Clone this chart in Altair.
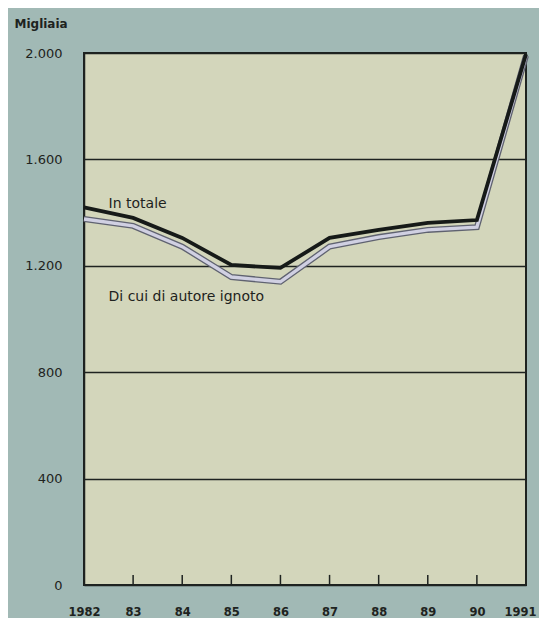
import altair as alt
import pandas as pd

years = [1982, 1983, 1984, 1985, 1986, 1987, 1988, 1989, 1990, 1991]
totale = [1420, 1380, 1305, 1203, 1192, 1305, 1335, 1361, 1372, 1995]
ignoto = [1376, 1350, 1272, 1158, 1140, 1272, 1308, 1335, 1345, 1990]
tick_years = [1983, 1984, 1985, 1986, 1987, 1988, 1989, 1990]
y_ticks = [0, 400, 800, 1200, 1600, 2000]
label_texts = ["In totale", "Di cui di autore ignoto"]
label_x = [1982.5, 1982.5]
label_y = [1432, 1082]

FONT = "DejaVu Sans"
INK = "#1e2320"

df = pd.DataFrame({"anno": years, "totale": totale, "ignoto": ignoto})
ticks_df = pd.DataFrame({"anno": tick_years, "y0": [0] * len(tick_years), "y1": [38] * len(tick_years)})
lab_df = pd.DataFrame({"t": label_texts, "x": label_x, "y": label_y})

xscale = alt.Scale(domain=[1982, 1991], nice=False, zero=False)
yscale = alt.Scale(domain=[0, 2000], nice=False)

xaxis = alt.Axis(
    values=years, domain=False, ticks=False, grid=False, title=None,
    labelExpr="datum.value == 1982 || datum.value == 1991 ? toString(datum.value) : substring(toString(datum.value), 2)",
    labelFont=FONT, labelFontSize=11.5, labelFontWeight="bold", labelColor=INK,
    labelPadding=21, labelBaseline="top", labelFlush=False,
    labelOffset={"condition": {"test": "datum.value == 1991", "value": -6}, "value": 0},
)
yaxis = alt.Axis(
    values=y_ticks, domain=True, domainColor=INK, domainWidth=1.5, ticks=False,
    grid=True, gridColor=INK, gridWidth=1.3,
    labelExpr="replace(format(datum.value, ','), ',', '.')",
    labelFont=FONT, labelFontSize=13, labelColor=INK, labelPadding=22,
    title="Migliaia", titleAngle=0, titleX=-70, titleY=-23, titleAlign="left",
    titleFont=FONT, titleFontSize=12, titleFontWeight="bold", titleColor=INK,
)

base = alt.Chart(df)

tot_line = base.mark_line(color="#161a18", strokeWidth=3.8).encode(
    x=alt.X("anno:Q", scale=xscale, axis=xaxis),
    y=alt.Y("totale:Q", scale=yscale, axis=yaxis),
)
ign_outer = base.mark_line(color="#5f6270", strokeWidth=6).encode(
    x=alt.X("anno:Q", scale=xscale), y=alt.Y("ignoto:Q", scale=yscale)
)
ign_inner = base.mark_line(color="#d0d0e2", strokeWidth=3.4).encode(
    x=alt.X("anno:Q", scale=xscale), y=alt.Y("ignoto:Q", scale=yscale)
)
ticks = alt.Chart(ticks_df).mark_rule(color=INK, strokeWidth=1.5).encode(
    x=alt.X("anno:Q", scale=xscale), y=alt.Y("y0:Q", scale=yscale), y2="y1:Q"
)
labels = alt.Chart(lab_df).mark_text(
    align="left", baseline="middle", font=FONT, fontSize=14, color=INK
).encode(x=alt.X("x:Q", scale=xscale), y=alt.Y("y:Q", scale=yscale), text="t:N")

chart = alt.layer(ticks, ign_outer, ign_inner, tot_line, labels).properties(
    width=442, height=532,
    autosize=alt.AutoSizeParams(type="none"),
    padding={"left": 76, "top": 45, "right": 13, "bottom": 33},
    background="#a1b9b5",
).configure_view(
    fill="#d3d6bb", stroke=INK, strokeWidth=2
)

chart.save("out.html", embed_options={"renderer": "svg", "actions": False})
